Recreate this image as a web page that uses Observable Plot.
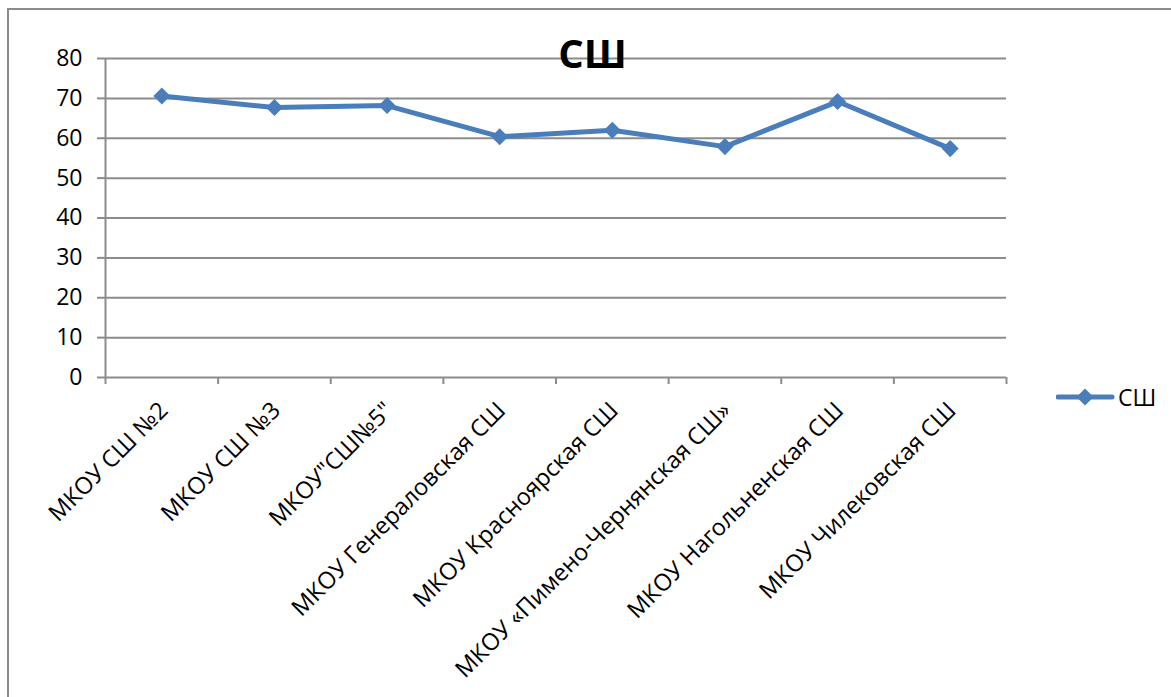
<!DOCTYPE html>
<html>
<head>
<meta charset="utf-8">
<script src="https://cdn.jsdelivr.net/npm/d3@7"></script>
<script src="https://cdn.jsdelivr.net/npm/@observablehq/plot@0.6"></script>
<style>
  html, body { margin: 0; padding: 0; background: #fff; }
  #wrap { position: relative; width: 1171px; height: 697px; overflow: hidden; font-family: "Open Sans", sans-serif; }
  #frame { position: absolute; left: 7px; top: 8px; width: 1180px; height: 720px; border: 2px solid #8c8c8c; box-sizing: border-box; }
  #chart { position: absolute; left: 0; top: 0; }
  #title { position: absolute; left: 0; width: 1185px; top: 33px; text-align: center; font-weight: bold; font-size: 40px; color: #000; line-height: 1; }
  #legend { position: absolute; left: 1056px; top: 381px; display: flex; align-items: center; font-size: 23px; color: #000; }
</style>
</head>
<body>
<div id="wrap">
  <div id="frame"></div>
  <div id="chart"></div>
  <div id="title"></div>
  <div id="legend"></div>
</div>
<script>
const categories = [
  "МКОУ СШ №2",
  "МКОУ СШ №3",
  "МКОУ\"СШ№5\"",
  "МКОУ Генераловская СШ",
  "МКОУ Красноярская СШ",
  "МКОУ «Пимено-Чернянская СШ»",
  "МКОУ Нагольненская СШ",
  "МКОУ Чилековская СШ"
];
const values = [70.6, 67.7, 68.2, 60.4, 62.0, 57.9, 69.2, 57.4];
const seriesName = "СШ";
const titleText = "СШ";
const yTicks = [0, 10, 20, 30, 40, 50, 60, 70, 80];

const lineColor = "#4a7ebb";
const gridColor = "#8c8c8c";

const data = categories.map((c, i) => ({ idx: i + 0.5, name: c, value: values[i] }));

const chart = Plot.plot({
  width: 1171,
  height: 697,
  marginLeft: 105,
  marginRight: 165,
  marginTop: 58,
  marginBottom: 320,
  style: { fontFamily: "Open Sans, sans-serif", fontSize: "23px", color: "#000", background: "transparent" },
  x: { type: "linear", domain: [0, categories.length] },
  y: { type: "linear", domain: [0, 80] },
  marks: [
    Plot.gridY(yTicks, { stroke: gridColor, strokeOpacity: 1, strokeWidth: 2 }),
    Plot.axisY(yTicks, { tickSize: 8, tickPadding: 15, stroke: gridColor, strokeWidth: 2, fontSize: 23, fill: "#000", label: null }),
    Plot.ruleX([0], { stroke: gridColor, strokeWidth: 2 }),
    Plot.axisX(d3.range(0, categories.length + 1), { tickSize: 7, tickFormat: () => "", stroke: gridColor, strokeWidth: 2, label: null }),
    Plot.axisX(data.map(d => d.idx), {
      tickSize: 0, tickRotate: -45, tickPadding: 29,
      tickFormat: v => categories[Math.floor(v)],
      fontSize: 23.5, fill: "#000", label: null, dx: 2, dy: 0
    }),
    Plot.line(data, { x: "idx", y: "value", stroke: lineColor, strokeWidth: 5, strokeLinejoin: "round" }),
    Plot.dot(data, { x: "idx", y: "value", symbol: "square", rotate: 45, r: 6.8, fill: lineColor, stroke: null })
  ]
});
document.getElementById("chart").appendChild(chart);
document.getElementById("title").textContent = titleText;

const legend = document.getElementById("legend");
legend.innerHTML = `<svg width="60" height="24" style="margin-right:2px">
  <line x1="2" y1="12" x2="56" y2="12" stroke="${lineColor}" stroke-width="5" stroke-linecap="round"/>
  <rect x="23" y="6" width="12" height="12" fill="${lineColor}" transform="rotate(45 29 12)"/>
</svg><span>${seriesName}</span>`;
</script>
</body>
</html>
